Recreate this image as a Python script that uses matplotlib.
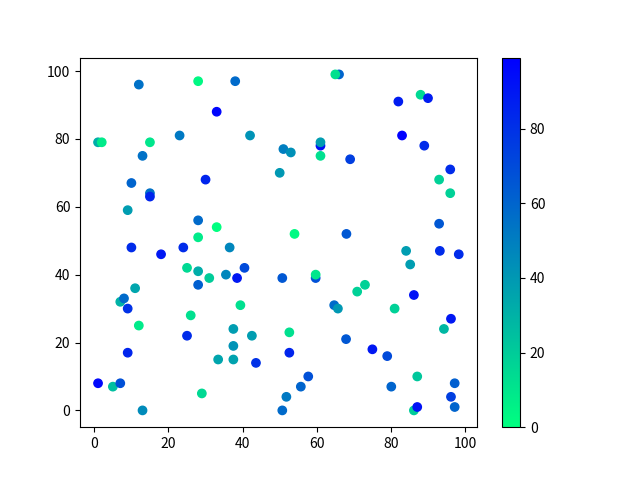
import matplotlib
matplotlib.use("Agg")
import matplotlib.pyplot as plt
import numpy as np

plt.rcParams['font.family'] = ['Noto Sans CJK SC', 'DejaVu Sans']
plt.rcParams['axes.unicode_minus'] = False

x = [12, 28, 38, 33, 1, 2, 15, 23, 13, 30,
     10, 15, 15, 9, 28, 33, 28, 42, 51, 53,
     61, 61, 61, 50, 54, 66, 65, 88, 90, 82,
     83, 89, 69, 96, 93, 96, 93, 68, 10, 18,
     24, 25, 28, 31, 28, 11, 7, 8, 9, 26,
     12, 25, 9, 1, 5, 7, 29, 13, 36.5, 40.5,
     35.5, 38.5, 50.7, 59.7, 59.7, 39.4, 64.7, 65.7, 37.5, 42.5,
     52.6, 37.5, 33.4, 37.5, 43.6, 52.6, 57.7, 55.7, 51.8, 50.7,
     84.1, 93.2, 98.3, 85.2, 73, 70.9, 86.2, 81, 96.2, 94.3,
     67.9, 75, 79, 87.1, 80.1, 97.2, 96.2, 97.2, 86.2, 87.1]
y = [96, 97, 97, 88, 79, 79, 79, 81, 75, 68,
     67, 64, 63, 59, 56, 54, 51, 81, 77, 76,
     78, 79, 75, 70, 52, 99, 99, 93, 92, 91,
     81, 78, 74, 71, 68, 64, 55, 52, 48, 46,
     48, 42, 41, 39, 37, 36, 32, 33, 30, 28,
     25, 22, 17, 8, 7, 8, 5, 0, 48, 42,
     40, 39, 39, 39, 40, 31, 31, 30, 24, 22,
     23, 19, 15, 15, 14, 17, 10, 7, 4, 0,
     47, 47, 46, 43, 37, 35, 34, 30, 27, 24,
     21, 18, 16, 10, 7, 8, 4, 1, 0, 1]
c = [55, 3, 58, 97, 32, 8, 10, 52, 55, 85,
     60, 55, 85, 38, 58, 0, 8, 42, 50, 43,
     92, 38, 12, 40, 2, 60, 12, 15, 88, 88,
     99, 82, 75, 82, 18, 18, 65, 65, 82, 90,
     82, 15, 32, 20, 62, 35, 30, 58, 80, 12,
     8, 82, 85, 96, 25, 68, 15, 45, 47, 70,
     47, 90, 65, 68, 10, 12, 58, 40, 38, 38,
     12, 42, 35, 36, 80, 85, 68, 60, 52, 58,
     38, 82, 82, 38, 18, 18, 92, 18, 90, 28,
     65, 90, 70, 22, 60, 62, 75, 60, 20, 92]

fig = plt.figure(figsize=(6.4, 4.8), dpi=100)
sc = plt.scatter(x, y, c=c, cmap='winter_r')
plt.colorbar(sc)
fig.savefig('out.png', dpi=100)
